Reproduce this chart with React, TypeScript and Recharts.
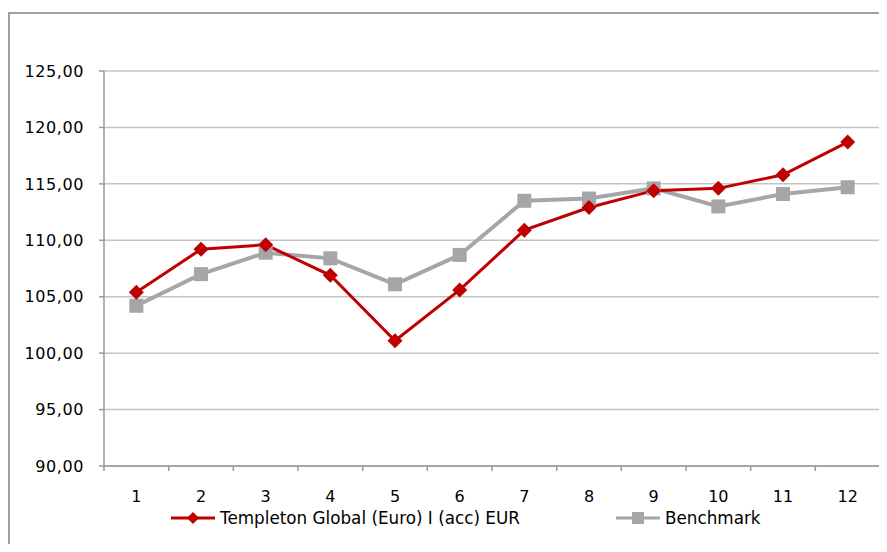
import { CartesianGrid, Legend, Line, LineChart, XAxis, YAxis } from 'recharts';

const months = ['1', '2', '3', '4', '5', '6', '7', '8', '9', '10', '11', '12'];
const templeton = [105.4, 109.2, 109.6, 106.9, 101.1, 105.6, 110.9, 112.9, 114.4, 114.6, 115.8, 118.7];
const benchmark = [104.2, 107.0, 108.9, 108.4, 106.1, 108.7, 113.5, 113.7, 114.6, 113.0, 114.1, 114.7];
const yTicks = [90, 95, 100, 105, 110, 115, 120, 125];

const fundName = 'Templeton Global (Euro) I (acc) EUR';
const benchName = 'Benchmark';

const data = months.map((m, i) => ({ month: m, fund: templeton[i], bench: benchmark[i] }));

const red = '#c00000';
const grey = '#a6a6a6';
const axisColor = '#999999';
const font = '"DejaVu Sans", Verdana, sans-serif';

const W = 887;
const H = 552;
const margin = { top: 71, right: 7, left: 34, bottom: 56 };
const band = (W - margin.left - 70 - margin.right) / months.length;

function Diamond(props: any) {
	const { cx, cy } = props;
	if (cx == null || cy == null) return null;
	const r = 7.5;
	return <polygon points={`${cx},${cy - r} ${cx + r},${cy} ${cx},${cy + r} ${cx - r},${cy}`} fill={red} />;
}

function Square(props: any) {
	const { cx, cy } = props;
	if (cx == null || cy == null) return null;
	return <rect x={cx - 7} y={cy - 7} width={14} height={14} fill={grey} />;
}

function MonthTick(props: any) {
	const { x, y, payload, index } = props;
	const axisY = y - 25;
	const left = x - band / 2;
	return (
		<g>
			<line x1={left} x2={left} y1={axisY} y2={axisY + 5} stroke={axisColor} strokeWidth={1.5} />
			{index === months.length - 1 && (
				<line x1={x + band / 2} x2={x + band / 2} y1={axisY} y2={axisY + 5} stroke={axisColor} strokeWidth={1.5} />
			)}
			<text x={x} y={y} dy="0.71em" textAnchor="middle" fontSize={16} fontFamily={font} fill="#000">
				{payload.value}
			</text>
		</g>
	);
}

function LegendBox() {
	return (
		<div style={{ position: 'relative', height: 24, fontFamily: font, fontSize: 16.8, color: '#000', whiteSpace: 'nowrap' }}>
			<div style={{ position: 'absolute', left: 171, top: 0, display: 'flex', alignItems: 'center' }}>
				<svg width={44} height={22}>
					<line x1={0} x2={44} y1={11} y2={11} stroke={red} strokeWidth={3} />
					<polygon points="22,5 28,11 22,17 16,11" fill={red} />
				</svg>
				<span style={{ marginLeft: 5 }}>{fundName}</span>
			</div>
			<div style={{ position: 'absolute', left: 616, top: 0, display: 'flex', alignItems: 'center' }}>
				<svg width={44} height={22}>
					<line x1={0} x2={44} y1={11} y2={11} stroke={grey} strokeWidth={3} />
					<rect x={16} y={5} width={12} height={12} fill={grey} />
				</svg>
				<span style={{ marginLeft: 5 }}>{benchName}</span>
			</div>
		</div>
	);
}

export default function App() {
	return (
		<div style={{ margin: -8, position: 'relative', width: W, height: H, overflow: 'hidden', background: '#fff' }}>
			<div
				style={{
					position: 'absolute',
					left: 8,
					top: 12,
					width: W,
					height: H,
					borderLeft: '2px solid #a0a0a0',
					borderTop: '2px solid #a0a0a0',
				}}
			/>
			<div style={{ position: 'absolute', left: 0, top: 0 }}>
				<LineChart width={W} height={H} data={data} margin={margin}>
					<CartesianGrid vertical={false} stroke="#c4c4c4" strokeWidth={1.5} />
					<XAxis
						dataKey="month"
						height={30}
						padding={{ left: band / 2, right: band / 2 }}
						axisLine={{ stroke: axisColor, strokeWidth: 1.5 }}
						tickLine={false}
						tickSize={5}
						tickMargin={20}
						interval={0}
						tick={<MonthTick />}
					/>
					<YAxis
						width={70}
						domain={[90, 125]}
						ticks={yTicks}
						interval={0}
						axisLine={{ stroke: axisColor, strokeWidth: 1.5 }}
						tickLine={{ stroke: axisColor, strokeWidth: 1.5 }}
						tickSize={5}
						tickMargin={15}
						tickFormatter={(v: number) => v.toFixed(2).replace('.', ',')}
						tick={{ fontSize: 16, fontFamily: font, fill: '#000', letterSpacing: 0.6 }}
					/>
					<Legend
						layout="horizontal"
						verticalAlign="middle"
						align="center"
						wrapperStyle={{ top: 507, left: 0, width: W }}
						content={<LegendBox />}
					/>
					<Line
						dataKey="bench"
						name={benchName}
						stroke={grey}
						strokeWidth={4}
						dot={<Square />}
						activeDot={false}
						isAnimationActive={false}
					/>
					<Line
						dataKey="fund"
						name={fundName}
						stroke={red}
						strokeWidth={3}
						dot={<Diamond />}
						activeDot={false}
						isAnimationActive={false}
					/>
				</LineChart>
			</div>
		</div>
	);
}
